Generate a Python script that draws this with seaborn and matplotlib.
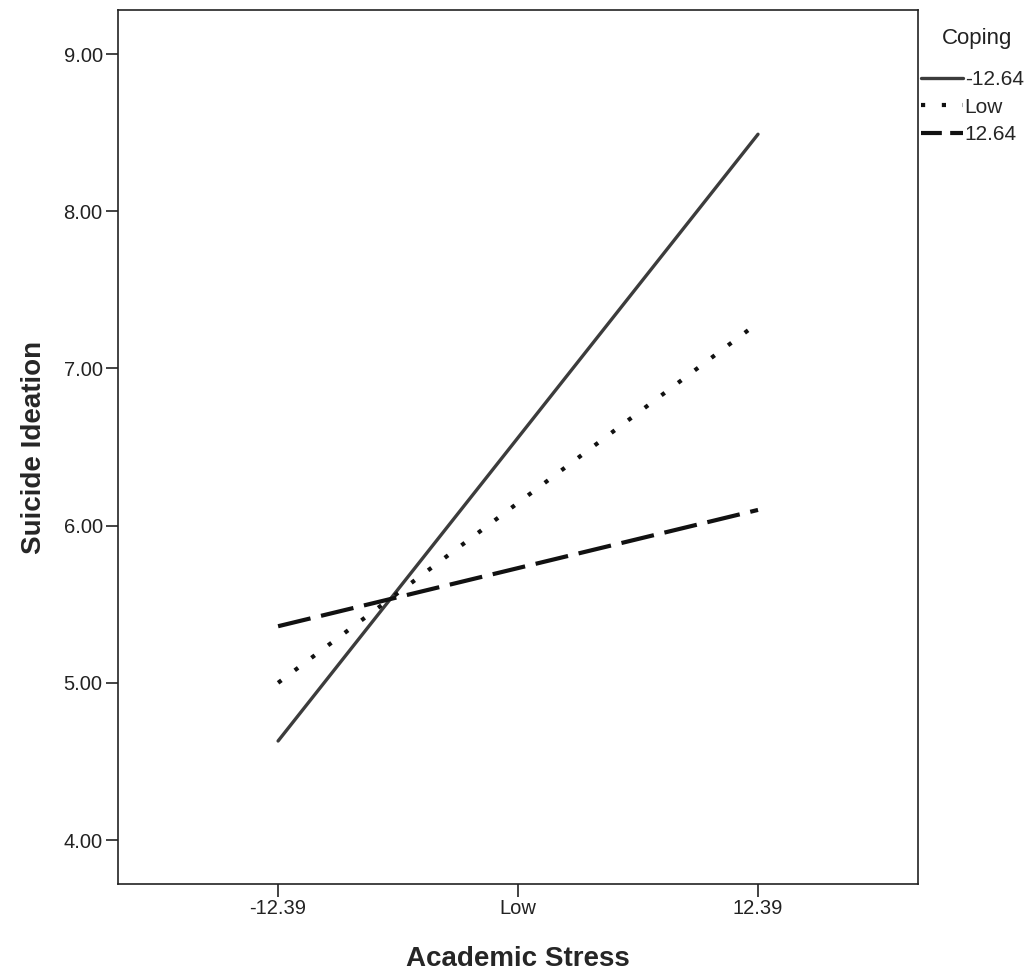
import pandas as pd
import seaborn as sns
import matplotlib.pyplot as plt
from matplotlib.lines import Line2D

# Datos
stress_labels = ["-12.39", "Low", "12.39"]
stress_pos = [0, 2]  # solo los extremos tienen puntos
coping_levels = ["-12.64", "Low", "12.64"]
ideation_neg = [4.63, 8.49]
ideation_low = [5.00, 7.29]
ideation_pos = [5.36, 6.10]

df = pd.DataFrame({
    "stress": stress_pos * 3,
    "ideation": ideation_neg + ideation_low + ideation_pos,
    "coping": [c for c in coping_levels for _ in stress_pos],
})

sns.set_style("white")
plt.rcParams["font.family"] = ["Liberation Sans", "DejaVu Sans"]

fig = plt.figure(figsize=(10.29, 9.75), dpi=100)
ax = fig.add_axes([0.1147, 0.0933, 0.7775, 0.8964])

colores = {"-12.64": "#3c3c3c", "Low": "#111111", "12.64": "#111111"}
estilos = {"-12.64": "", "Low": (1, 4.0), "12.64": (8, 2.6)}
grosores = {"-12.64": 2.4, "Low": 3.0, "12.64": 3.0}

sns.lineplot(data=df, x="stress", y="ideation", hue="coping", style="coping",
             hue_order=coping_levels, style_order=coping_levels,
             palette=colores, dashes=estilos, ax=ax, legend=False)
for linea, c in zip(ax.lines, coping_levels):
    linea.set_linewidth(grosores[c])

ax.set_xlim(-0.667, 2.667)
ax.set_ylim(3.72, 9.28)
ax.set_xticks([0, 1, 2])
ax.set_xticklabels(stress_labels)
ax.set_yticks([4, 5, 6, 7, 8, 9])
ax.set_yticklabels([f"{v:.2f}" for v in [4, 5, 6, 7, 8, 9]])
ax.tick_params(axis="both", labelsize=14.5, colors="#222222", length=9, width=1.2,
               direction="out", pad=2)
ax.tick_params(axis="both", bottom=True, left=True)
ax.set_xlabel("Academic Stress", fontsize=20, fontweight="bold", labelpad=20)
ax.set_ylabel("Suicide Ideation", fontsize=20, fontweight="bold", labelpad=12)
for s in ax.spines.values():
    s.set_color("#222222")
    s.set_linewidth(1.2)

# Leyenda fuera del area del grafico
fig.text(0.9495, 0.961, "Coping", fontsize=16, color="#222222", ha="center", va="center")
handles = [Line2D([], [], color=colores[c], linewidth=grosores[c],
                  linestyle="-" if estilos[c] == "" else (0, estilos[c] if c != "12.64" else (5, 2)))
           for c in coping_levels]
leg = fig.legend(handles, coping_levels, loc="upper left",
                 bbox_to_anchor=(0.895, 0.928), frameon=False, fontsize=15,
                 handlelength=2.0, handletextpad=0.1,
                 labelspacing=0.4, borderaxespad=0, borderpad=0)

plt.savefig("out.png", dpi=100)
